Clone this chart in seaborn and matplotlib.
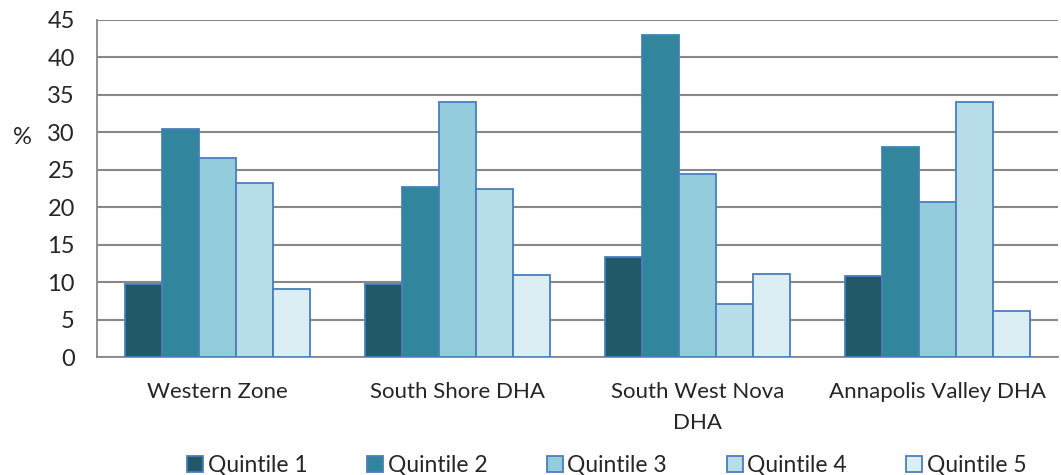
import matplotlib
matplotlib.use("Agg")
import matplotlib.pyplot as plt
import seaborn as sns
import pandas as pd
import numpy as np
from matplotlib.patches import Patch

regions = ["Western Zone", "South Shore DHA", "South West Nova\nDHA", "Annapolis Valley DHA"]
quintiles = ["Quintile 1", "Quintile 2", "Quintile 3", "Quintile 4", "Quintile 5"]
q1 = [9.8, 9.8, 13.4, 10.8]
q2 = [30.4, 22.7, 43.0, 28.0]
q3 = [26.6, 34.1, 24.5, 20.7]
q4 = [23.3, 22.4, 7.1, 34.0]
q5 = [9.1, 11.0, 11.1, 6.2]

colors = ["#215968", "#31859C", "#93CDDD", "#B7DEE8", "#DBEEF4"]
edge = "#4A7EBB"

rows = []
for q, vals in zip(quintiles, [q1, q2, q3, q4, q5]):
    for r, v in zip(regions, vals):
        rows.append({"region": r, "quintile": q, "value": v})
df = pd.DataFrame(rows)

sns.set_style("white")
plt.rcParams["font.family"] = ["Lato", "DejaVu Sans"]

fig = plt.figure(figsize=(10.61, 4.75), dpi=100)
ax = fig.add_axes([0.0914, 0.248, 0.9056, 0.710])

sns.barplot(data=df, x="region", y="value", hue="quintile", order=regions,
            hue_order=quintiles, palette=colors, saturation=1, width=0.77, gap=0,
            edgecolor=edge, linewidth=1.3, ax=ax, legend=False, zorder=3)

ax.set_ylim(0, 45)
ax.set_xlim(-0.5, len(regions) - 0.5)
ax.set_yticks(np.arange(0, 46, 5))
ax.yaxis.grid(True, color="#888888", linewidth=1.5, zorder=0)
ax.set_axisbelow(True)
ax.set_xlabel("")
ax.set_ylabel("%", rotation=0, fontsize=17)
ax.yaxis.set_label_coords(-0.078, 0.62)

for s in ["top", "right"]:
    ax.spines[s].set_visible(False)
for s in ["left", "bottom"]:
    ax.spines[s].set_color("#888888")
    ax.spines[s].set_linewidth(1.3)

ax.tick_params(axis="y", labelsize=17, length=6, color="#888888", width=1.3, pad=10)
ax.tick_params(axis="x", which="major", labelsize=16, length=0, pad=18)
for lbl in ax.get_xticklabels():
    lbl.set_linespacing(1.7)
ax.set_xticks(np.arange(-0.5, len(regions)), minor=True)
ax.tick_params(axis="x", which="minor", length=7, color="#888888", width=1.3)

handles = [Patch(facecolor=c, edgecolor=edge, linewidth=1.3, label=q)
           for c, q in zip(colors, quintiles)]
fig.legend(handles=handles, loc="lower center", ncol=5, frameon=False,
           fontsize=16.5, bbox_to_anchor=(0.572, -0.045), handlelength=0.7,
           handleheight=0.7, handletextpad=0.2, columnspacing=2.6)

fig.savefig("out.png", dpi=100)
